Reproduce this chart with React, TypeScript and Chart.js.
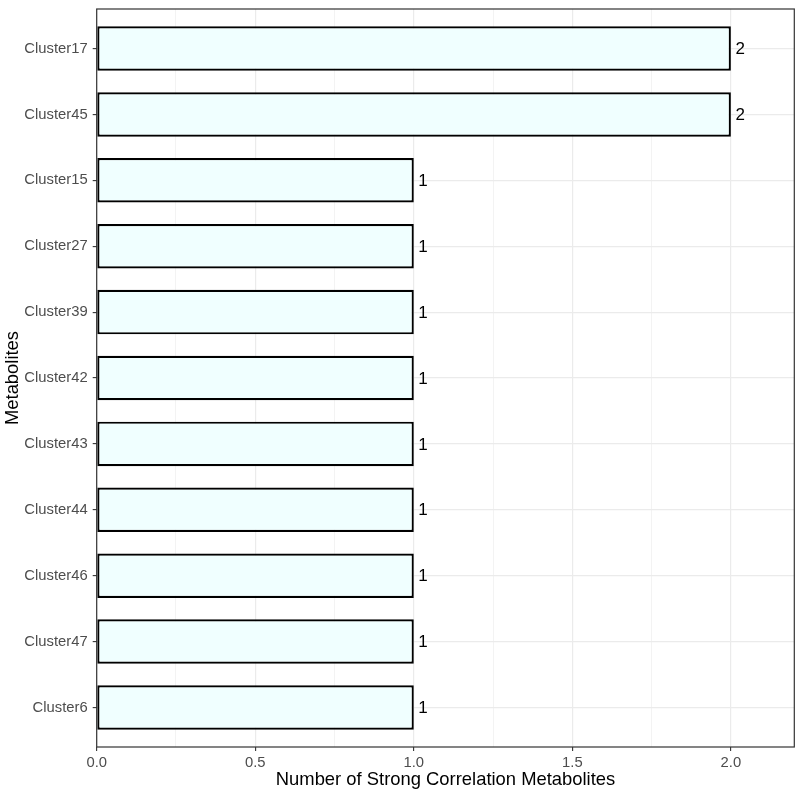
import React, { useEffect, useRef } from "react";
import { Chart, registerables } from "chart.js";
Chart.register(...registerables);

const categories = ["Cluster17", "Cluster45", "Cluster15", "Cluster27", "Cluster39", "Cluster42", "Cluster43", "Cluster44", "Cluster46", "Cluster47", "Cluster6"];
const counts = [2, 2, 1, 1, 1, 1, 1, 1, 1, 1, 1];
const xTicks = [0, 0.25, 0.5, 0.75, 1, 1.25, 1.5, 1.75, 2];
const majorXTicks = [0, 0.5, 1, 1.5, 2];
const xTitle = "Number of Strong Correlation Metabolites";
const yTitle = "Metabolites";

const FONT = "'Liberation Sans', Arial, Helvetica, sans-serif";

export default function App() {
  const ref = useRef<HTMLCanvasElement>(null);
  useEffect(() => {
    const isMajor = (v: number) => majorXTicks.some((m) => Math.abs(m - v) < 1e-9);
    const labelPlugin = {
      id: "valueLabels",
      afterDatasetsDraw(chart: any) {
        const ctx = chart.ctx;
        const meta = chart.getDatasetMeta(0);
        ctx.save();
        ctx.font = `17px ${FONT}`;
        ctx.fillStyle = "#000000";
        ctx.textAlign = "left";
        ctx.textBaseline = "middle";
        meta.data.forEach((el: any, i: number) => {
          ctx.fillText(String(counts[i]), el.x + 4.5, el.y + 1);
        });
        ctx.restore();
      },
    };
    const borderPlugin = {
      id: "panelBorder",
      afterDraw(chart: any) {
        const { left, top, right, bottom } = chart.chartArea;
        const ctx = chart.ctx;
        ctx.save();
        ctx.strokeStyle = "#333333";
        ctx.lineWidth = 1.2;
        ctx.strokeRect(left, top, right - left, bottom - top);
        ctx.restore();
      },
    };
    const chart = new Chart(ref.current as HTMLCanvasElement, {
      type: "bar",
      data: {
        datasets: [
          {
            data: counts.map((v, i) => ({ x: v, y: i })),
            backgroundColor: "#F0FFFF",
            borderColor: "#000000",
            borderWidth: 2.2,
            borderSkipped: false,
            barPercentage: 0.675,
            categoryPercentage: 1,
          } as any,
        ],
      },
      options: {
        indexAxis: "y",
        responsive: false,
        animation: false,
        layout: { padding: { top: 9, right: 5.7, left: 0, bottom: 0 } },
        plugins: { legend: { display: false }, tooltip: { enabled: false } },
        scales: {
          x: {
            type: "linear",
            min: 0,
            max: 2.2,
            offset: false,
            afterBuildTicks: (s: any) => {
              s.ticks = xTicks.map((v) => ({ value: v }));
            },
            afterFit: (s: any) => {
              s.height = 53;
              s.paddingLeft = 0;
              s.paddingRight = 0;
            },
            ticks: {
              callback: (v: any) => (isMajor(Number(v)) ? Number(v).toFixed(1) : ""),
              color: "#4D4D4D",
              font: { family: FONT, size: 14.8 },
              padding: 3,
              maxRotation: 0,
              autoSkip: false,
            },
            grid: {
              offset: false,
              color: "#EBEBEB",
              lineWidth: (c: any) => (isMajor(c.tick ? c.tick.value : 0) ? 1.2 : 0.6),
              tickColor: (c: any) => (isMajor(c.tick ? c.tick.value : 0) ? "#333333" : "rgba(0,0,0,0)"),
              tickLength: 4,
              tickWidth: 1.1,
            },
            border: { display: false },
            title: {
              display: true,
              text: xTitle,
              color: "#000000",
              font: { family: FONT, size: 18.4 },
              padding: { top: 0, bottom: 9 },
            },
          },
          y: {
            type: "linear",
            reverse: true,
            min: -0.6,
            max: 10.6,
            offset: false,
            afterBuildTicks: (s: any) => {
              s.ticks = categories.map((_, i) => ({ value: i }));
            },
            afterFit: (s: any) => {
              s.width = 96.7;
              s.paddingTop = 0;
              s.paddingBottom = 0;
            },
            ticks: {
              callback: (v: any) => categories[Number(v)] ?? "",
              color: "#4D4D4D",
              font: { family: FONT, size: 14.8 },
              padding: 5,
              autoSkip: false,
            },
            grid: {
              offset: false,
              color: "#EBEBEB",
              lineWidth: 1.2,
              tickColor: "#333333",
              tickLength: 4,
              tickWidth: 1.1,
            },
            border: { display: false },
            title: {
              display: true,
              text: yTitle,
              color: "#000000",
              font: { family: FONT, size: 18.4 },
              padding: { top: 2, bottom: 2 },
            },
          },
        },
      } as any,
      plugins: [labelPlugin, borderPlugin],
    });
    return () => chart.destroy();
  }, []);
  return (
    <canvas
      ref={ref}
      width={800}
      height={800}
      style={{ position: "absolute", left: 0, top: 0, display: "block", width: 800, height: 800 }}
    />
  );
}
